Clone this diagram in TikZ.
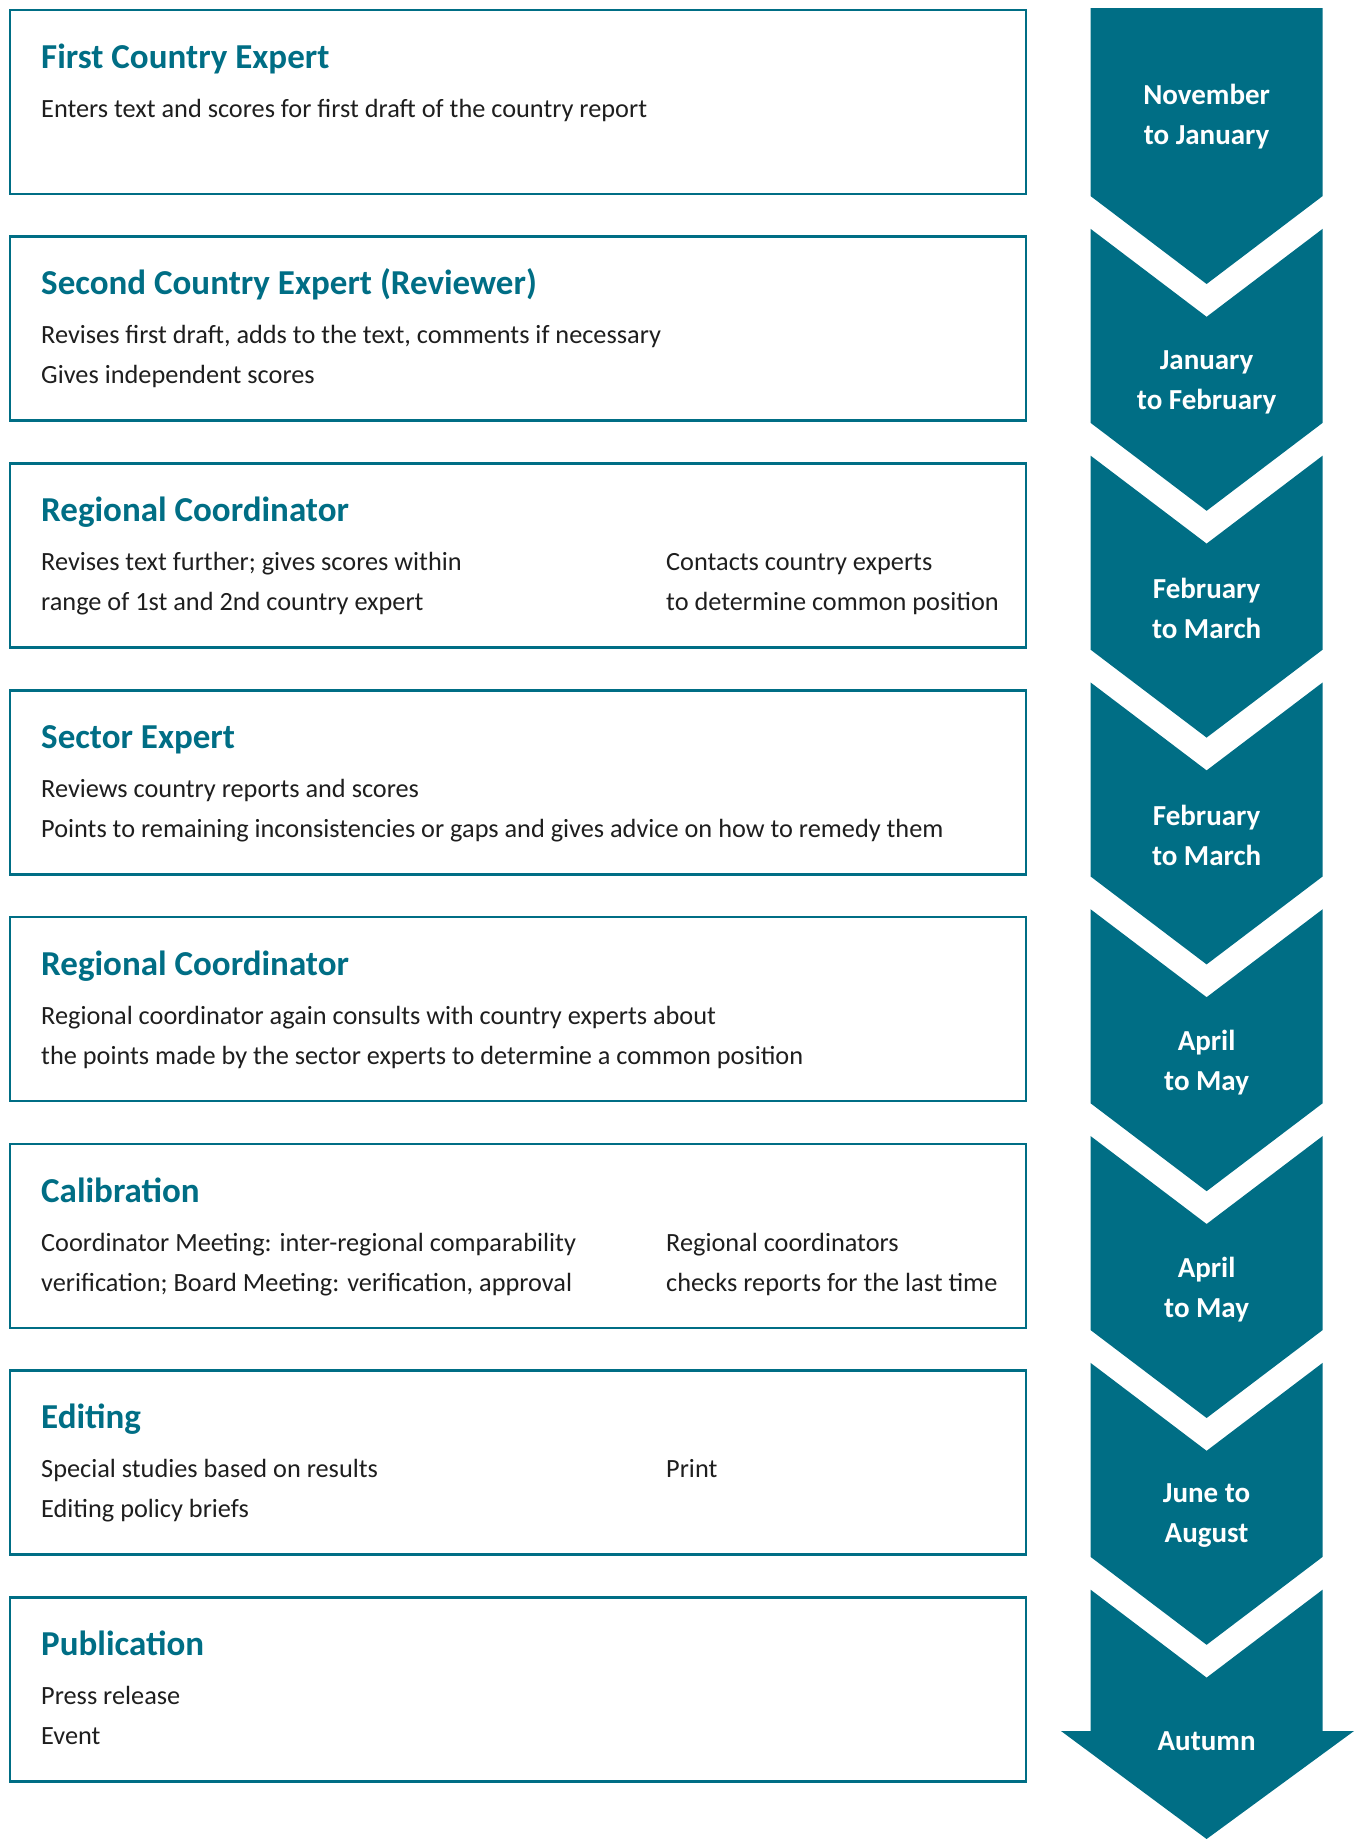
\documentclass[tikz,border=0pt]{standalone}
\usepackage{fontspec}
\setmainfont{Carlito}
\definecolor{stageteal}{HTML}{006E85}
\definecolor{stageink}{HTML}{1E1E1E}
\tikzset{
  stagebox/.style={draw=stageteal, line width=2.5pt, anchor=north west,
    minimum width=1016pt, minimum height=184pt, inner sep=0pt},
  stagetitle/.style={anchor=base west, inner sep=0pt, text=stageteal,
    font=\fontsize{35}{40}\selectfont\bfseries},
  stagetext/.style={anchor=base west, inner sep=0pt, text=stageink,
    font=\fontsize{26.3}{40}\selectfont},
  chevron/.style={fill=stageteal},
  chevtext/.style={align=center, inner sep=0pt, text=white,
    font=\fontsize{29}{40}\selectfont\bfseries},
}
\begin{document}
\begin{tikzpicture}[x=1pt,y=1pt]
      \useasboundingbox (0,0) rectangle (1359,-1839);
      % stages on the left
      \foreach[count=\i] \ttl/\la/\lb in {
        {First Country Expert}/{Enters text and scores for first draft of the country report}/{},
        {Second Country Expert (Reviewer)}/{Revises first draft, adds to the text, comments if necessary}/{Gives independent scores},
        {Regional Coordinator}/{Revises text further; gives scores within}/{range of 1st and 2nd country expert},
        {Sector Expert}/{Reviews country reports and scores}/{Points to remaining inconsistencies or gaps and gives advice on how to remedy them},
        {Regional Coordinator}/{Regional coordinator again consults with country experts about}/{the points made by the sector experts to determine a common position},
        {Calibration}/{Coordinator Meeting: inter-regional comparability}/{verification; Board Meeting: verification, approval},
        {Editing}/{Special studies based on results}/{Editing policy briefs},
        {Publication}/{Press release}/{Event}} {
        \begin{scope}[yshift={-(\i-1)*226.8pt}]
          \node[stagebox] (box\i) at (8.8,-8.6) {};
          \node[stagetitle] (title\i) at (41,-68) {\ttl};
          \node[stagetext] (texta\i) at (41,-117) {\la};
          \node[stagetext] (textb\i) at (41,-157) {\lb};
        \end{scope}
      }
      \node[stagetext] (side3a) at (666,-570.6) {Contacts country experts};
      \node[stagetext] (side3b) at (666,-610.6) {to determine common position};
      \node[stagetext] (side6a) at (666,-1251) {Regional coordinators};
      \node[stagetext] (side6b) at (666,-1291) {checks reports for the last time};
      \node[stagetext] (side7a) at (666,-1477.8) {Print};

      % time line on the right
      \fill[chevron] (1090.5,-8) -- (1322.7,-8) -- (1322.7,-196) -- (1206.6,-284)
        -- (1090.5,-196) -- cycle;
      \foreach \k in {1,...,6} {
        \begin{scope}[yshift={-\k*226.8pt}]
          \fill[chevron] (1090.5,-2) -- (1206.6,-90) -- (1322.7,-2) -- (1322.7,-196)
            -- (1206.6,-284) -- (1090.5,-196) -- cycle;
        \end{scope}
      }
      \fill[chevron] (1090.5,-1589.6) -- (1206.6,-1677.6) -- (1322.7,-1589.6)
        -- (1322.7,-1731) -- (1354,-1731) -- (1206.6,-1839) -- (1061,-1731)
        -- (1090.5,-1731) -- cycle;
      \foreach[count=\k,evaluate={\cy=(\k==1)?117:(382+226.8*(\k-2));}] \lbl in {
        {November\\to January}, {January\\to February}, {February\\to March},
        {February\\to March}, {April\\to May}, {April\\to May},
        {June to\\August}} {
        \node[chevtext] (month\k) at (1206.6,-\cy) {\lbl};
      }
      \node[chevtext] (month8) at (1206.6,-1741) {Autumn};
    \end{tikzpicture}
\end{document}
